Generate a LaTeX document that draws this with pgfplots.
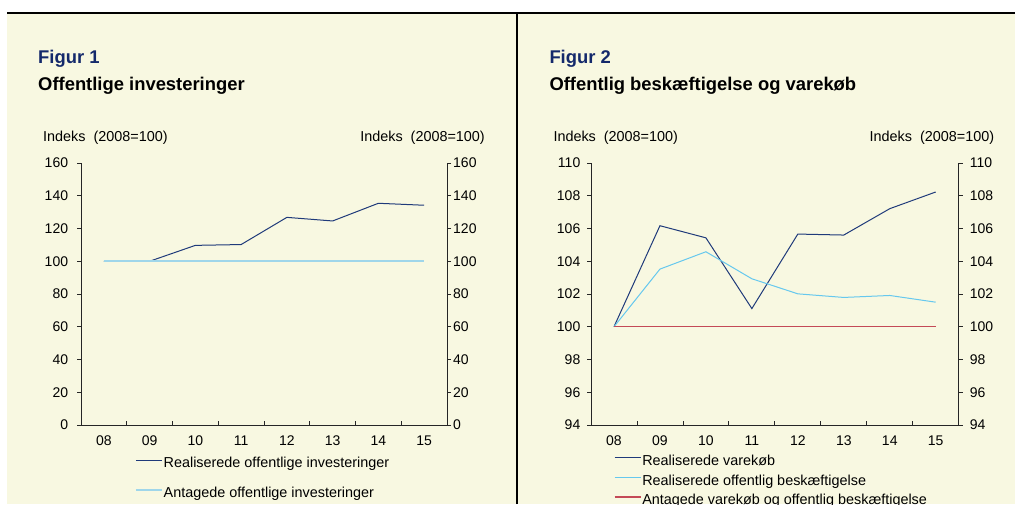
\documentclass[border=0pt]{standalone}
\usepackage{fontspec}
\setmainfont{Liberation Sans}
\usepackage{pgfplots}
\pgfplotsset{compat=1.18}
\definecolor{bg}{HTML}{F8F8E1}
\definecolor{navy}{HTML}{1F3A7A}
\definecolor{titlenavy}{HTML}{14296B}
\definecolor{lbone}{HTML}{9FD6EA}
\definecolor{lbtwo}{HTML}{66C8EE}
\definecolor{redtwo}{HTML}{C44A57}
\pgfplotsset{
  base/.style={
    scale only axis, height=262pt,
    xmin=-0.5, xmax=7.5,
    axis line style={black!85, line width=0.8pt},
    tick style={black!85, line width=0.8pt},
    major tick length=4pt,
    font=\fontsize{14}{16}\selectfont,
    /pgf/number format/assume math mode=true,
  },
  leftax/.style={
    base,
    axis y line*=left, axis x line*=bottom,
    xtick={-0.5,0.5,...,7.5}, xticklabels={},
    xtick align=inside, ytick align=outside,
    extra x ticks={0,1,2,3,4,5,6,7},
    extra x tick labels={08,09,10,11,12,13,14,15},
    extra x tick style={major tick length=0pt,
      xticklabel style={anchor=base, inner sep=0pt, yshift=-20pt}},
    yticklabel style={anchor=east, inner sep=0pt},
    legend cell align=left,
    legend image code/.code={\draw[##1] (0pt,4pt) -- (26pt,4pt);},
  },
  rightax/.style={
    base,
    axis y line*=right, axis x line=none,
    ytick align=outside,
    yticklabel style={anchor=west, inner sep=0pt},
  },
}
\begin{document}
\begin{tikzpicture}[x=1pt,y=1pt]
\useasboundingbox (0pt,0pt) rectangle (1015pt,504pt);
\clip (0pt,0pt) rectangle (1015pt,504pt);
\fill[bg] (7pt,0pt) rectangle (1015pt,491pt);
\draw[black, line width=1.2pt] (7pt,491pt) -- (1015pt,491pt);
\draw[black, line width=1.6pt] (517pt,0pt) -- (517pt,491pt);

% titles
\node[anchor=base west, inner sep=0pt, text=titlenavy, font=\fontsize{18.4}{22}\selectfont\bfseries] at (38pt,440.7pt) {Figur 1};
\node[anchor=base west, inner sep=0pt, font=\fontsize{18.4}{22}\selectfont\bfseries] at (38pt,413.3pt) {Offentlige investeringer};
\node[anchor=base west, inner sep=0pt, text=titlenavy, font=\fontsize{18.4}{22}\selectfont\bfseries] at (549.3pt,440.7pt) {Figur 2};
\node[anchor=base west, inner sep=0pt, font=\fontsize{18.4}{22}\selectfont\bfseries] at (549.3pt,413.3pt) {Offentlig beskæftigelse og varekøb};

\node[anchor=base west, inner sep=0pt, font=\fontsize{14.4}{16}\selectfont] at (43pt,362.3pt) {Indeks\ \ (2008=100)};
\node[anchor=base east, inner sep=0pt, font=\fontsize{14.4}{16}\selectfont] at (485pt,362.3pt) {Indeks\ \ (2008=100)};
\node[anchor=base west, inner sep=0pt, font=\fontsize{14.4}{16}\selectfont] at (553.3pt,362.3pt) {Indeks\ \ (2008=100)};
\node[anchor=base east, inner sep=0pt, font=\fontsize{14.4}{16}\selectfont] at (994.3pt,362.3pt) {Indeks\ \ (2008=100)};

% Panel 1
\begin{axis}[leftax, at={(81pt,79pt)}, anchor=south west, width=366pt,
  ymin=0, ymax=160, ytick={0,20,...,160},
  yticklabel style={xshift=-8.7pt},
  legend style={at={(axis description cs:0.139,-0.111)}, anchor=north west,
    draw=none, fill=none, font=\fontsize{14.4}{16}\selectfont,
    row sep=14.5pt, nodes={inner sep=1pt, text height=10.5pt, text depth=3pt}},
]
\addplot[navy, line width=1pt] coordinates {(0,100) (1,100) (2,109.7) (3,110.2) (4,126.8) (5,124.6) (6,135.4) (7,134.2)};
\addlegendentry{Realiserede offentlige investeringer}
\addplot[lbone, line width=1.6pt] coordinates {(0,100) (1,100) (2,100) (3,100) (4,100) (5,100) (6,100) (7,100)};
\addlegendentry{Antagede offentlige investeringer}
\end{axis}
\begin{axis}[rightax, at={(81pt,79pt)}, anchor=south west, width=366pt,
  ymin=0, ymax=160, ytick={0,20,...,160},
  yticklabel style={xshift=2pt}]
\end{axis}

% Panel 2
\begin{axis}[leftax, at={(591pt,79pt)}, anchor=south west, width=367.7pt,
  ymin=94, ymax=110, ytick={94,96,...,110},
  yticklabel style={xshift=-6.5pt},
  legend style={at={(axis description cs:0.054,-0.103)}, anchor=north west,
    draw=none, fill=none, font=\fontsize{14.4}{16}\selectfont,
    row sep=4pt, nodes={inner sep=1pt, text height=10.5pt, text depth=3pt}},
]
\addplot[navy, line width=1pt] coordinates {(0,100) (1,106.17) (2,105.43) (3,101.11) (4,105.66) (5,105.6) (6,107.21) (7,108.23)};
\addlegendentry{Realiserede varekøb}
\addplot[lbtwo, line width=1pt] coordinates {(0,100) (1,103.52) (2,104.58) (3,102.93) (4,102.01) (5,101.79) (6,101.91) (7,101.5)};
\addlegendentry{Realiserede offentlig beskæftigelse}
\addplot[redtwo, line width=1.2pt] coordinates {(0,100) (1,100) (2,100) (3,100) (4,100) (5,100) (6,100) (7,100)};
\addlegendentry{Antagede varekøb og offentlig beskæftigelse}
\end{axis}
\begin{axis}[rightax, at={(591pt,79pt)}, anchor=south west, width=367.7pt,
  ymin=94, ymax=110, ytick={94,96,...,110},
  yticklabel style={xshift=7pt}]
\end{axis}
\end{tikzpicture}
\end{document}
